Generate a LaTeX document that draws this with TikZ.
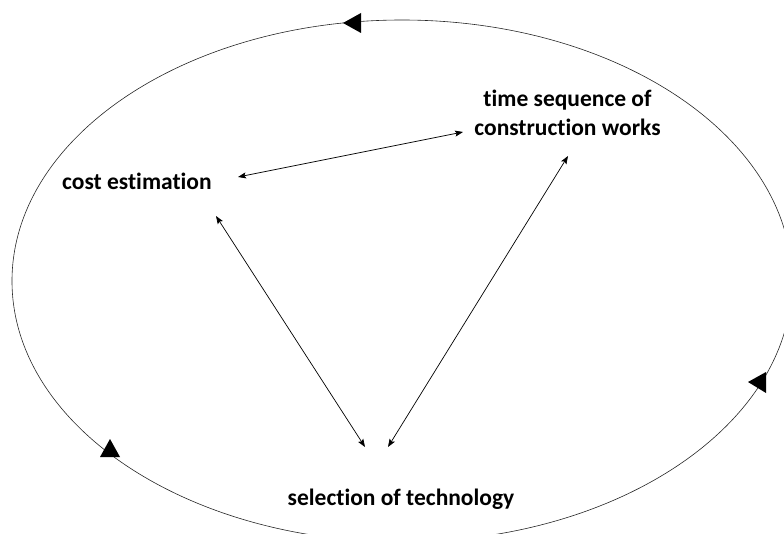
\documentclass[tikz,border=0pt]{standalone}
\usepackage{fontspec}
\setmainfont{Carlito}[RawFeature={-liga;-clig;-dlig}]
\usetikzlibrary{arrows.meta}
\begin{document}
\begin{tikzpicture}[x=1pt,y=-1pt,
  lbl/.style={font=\fontsize{23.5}{29}\selectfont\bfseries, inner sep=0pt, align=center},
  link/.style={line width=0.7pt, {Stealth[length=8pt,width=6pt,inset=1.5pt]}-{Stealth[length=8pt,width=6pt,inset=1.5pt]}},
  loop/.style={line width=0.6pt, draw=black!85},
  tri/.style={fill=black, draw=none}]
\useasboundingbox (0,0) rectangle (784,534);
\begin{scope}
  \clip (0,0) rectangle (784,534);
  \draw[loop] (402,281) ellipse [x radius=390, y radius=261];
\end{scope}
% direction marks on the ellipse
\fill[tri] (343,23) -- (361,13) -- (361,33) -- cycle;
\fill[tri] (748,382) -- (766,372) -- (766,393) -- cycle;
\fill[tri] (110,439) -- (100,457) -- (120,457) -- cycle;
% labels
\node[lbl, anchor=base west] (cost) at (62,190) {cost estimation};
\node[lbl, anchor=base] (time1) at (567.5,107) {time sequence of};
\node[lbl, anchor=base] (time2) at (567.5,136) {construction works};
\node[lbl, anchor=base] (sel) at (401,505) {selection of technology};
% connector ends
\coordinate (c1) at (238,177);
\coordinate (t1) at (463,132);
\coordinate (c2) at (216,216);
\coordinate (s2) at (365,447);
\coordinate (t3) at (568,156);
\coordinate (s3) at (388,447);
\draw[link] (c1) -- (t1);
\draw[link] (c2) -- (s2);
\draw[link] (t3) -- (s3);
\end{tikzpicture}
\end{document}
